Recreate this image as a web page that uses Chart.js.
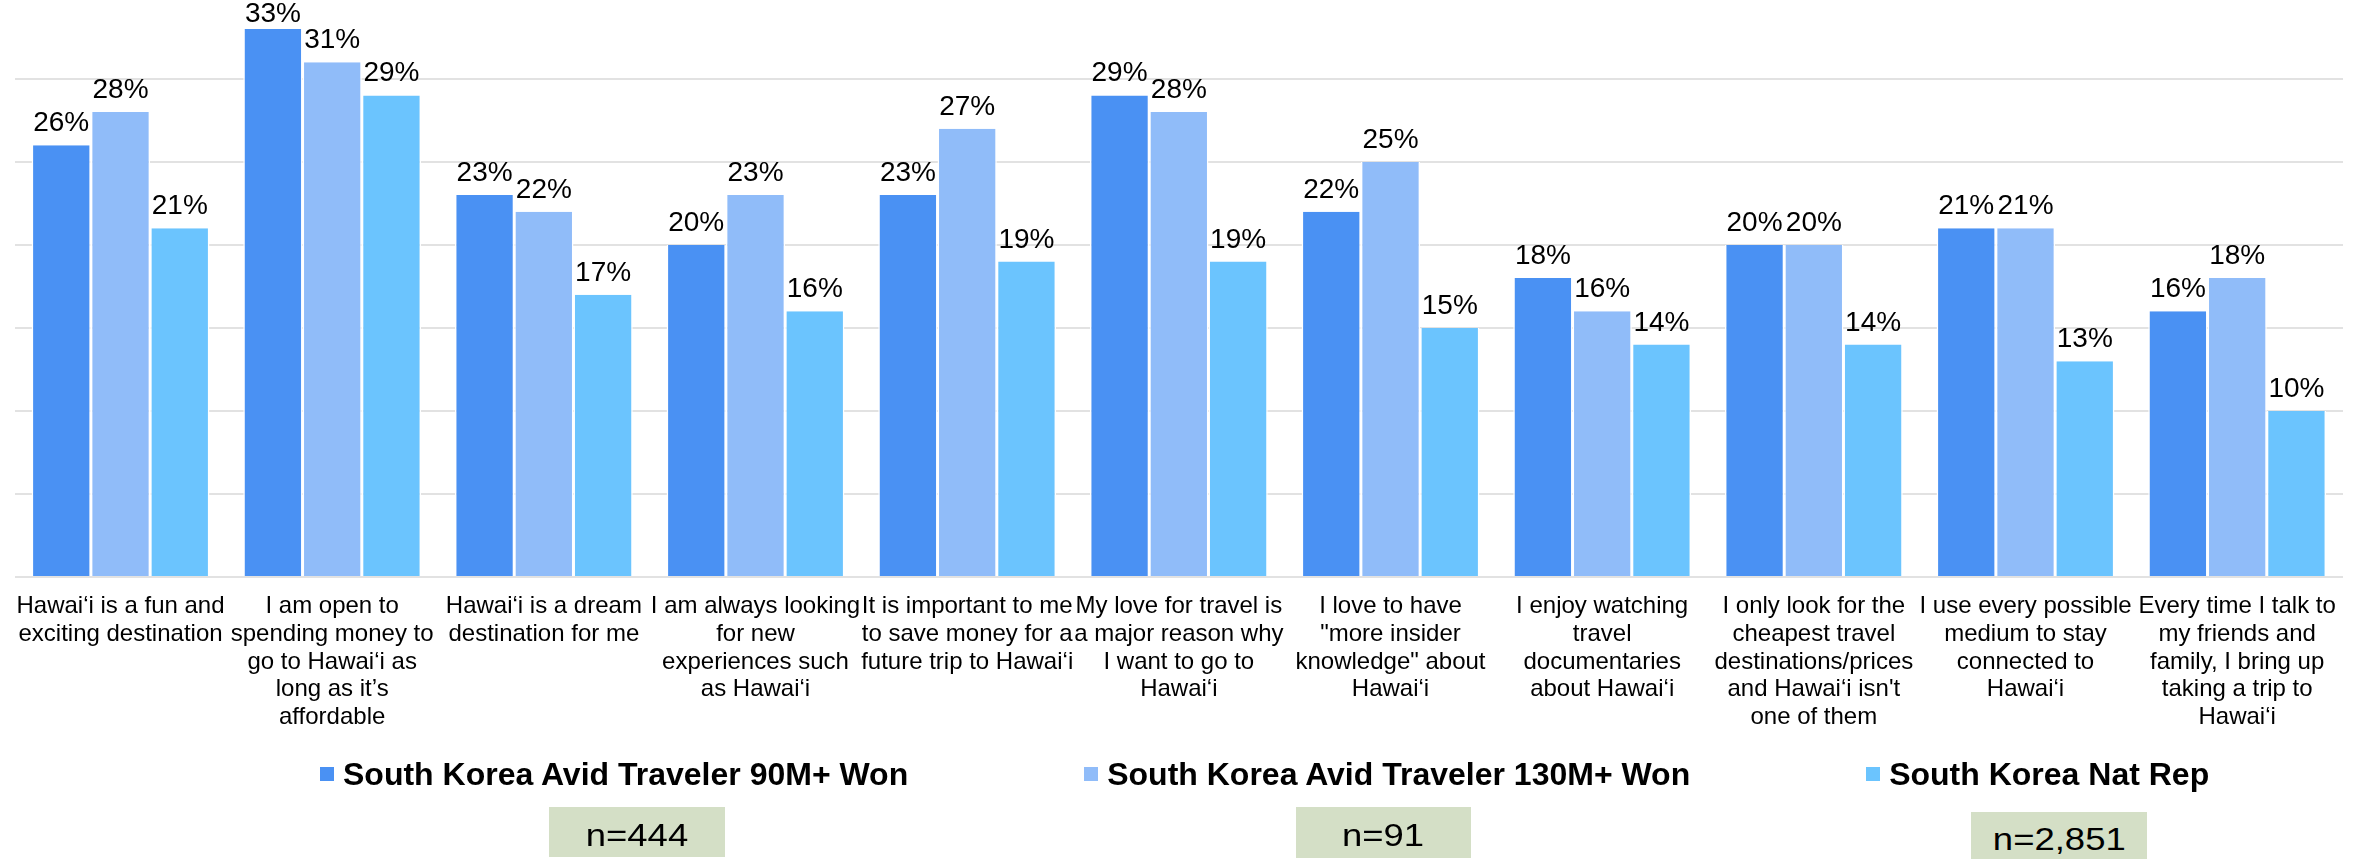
<!DOCTYPE html>
<html>
<head>
<meta charset="utf-8">
<script src="https://cdn.jsdelivr.net/npm/chart.js@4.4.1/dist/chart.umd.min.js"></script>
<style>
  body { margin: 0; background: #fff; font-family: "Liberation Sans", Arial, sans-serif; }
  #wrap { position: relative; width: 2367px; height: 859px; overflow: hidden; }
  #chart-box { position: absolute; left: 0; top: 0; width: 2367px; height: 859px; }
  #legend { position: absolute; left: 320px; top: 758px; display: flex; column-gap: 176px; }
  .lg-item { display: flex; align-items: center; font-weight: bold; font-size: 32px; line-height: 32px; color: #000; white-space: nowrap; }
  .lg-box { width: 14px; height: 14px; margin-right: 9px; }
  .nbox { position: absolute; background: #d4dfc6; text-align: center; font-size: 32px; color: #000; }
  .nbox span { display: inline-block; transform: scaleX(1.14); }
  #n0 { left: 549px; top: 807px; width: 176px; height: 50px; line-height: 57px; }
  #n1 { left: 1296px; top: 807px; width: 175px; height: 51px; line-height: 57px; }
  #n2 { left: 1971px; top: 812px; width: 176px; height: 60px; line-height: 55px; }
</style>
</head>
<body>
<div id="wrap">
  <div id="chart-box"><canvas id="bar-chart"></canvas></div>
  <div id="legend"></div>
  <div class="nbox" id="n0"></div>
  <div class="nbox" id="n1"></div>
  <div class="nbox" id="n2"></div>
</div>
<script>
var statements = [
  ["Hawai‘i is a fun and", "exciting destination"],
  ["I am open to", "spending money to", "go to Hawai‘i as", "long as it’s", "affordable"],
  ["Hawai‘i is a dream", "destination for me"],
  ["I am always looking", "for new", "experiences such", "as Hawai‘i"],
  ["It is important to me", "to save money for a", "future trip to Hawai‘i"],
  ["My love for travel is", "a major reason why", "I want to go to", "Hawai‘i"],
  ["I love to have", "\"more insider", "knowledge\" about", "Hawai‘i"],
  ["I enjoy watching", "travel", "documentaries", "about Hawai‘i"],
  ["I only look for the", "cheapest travel", "destinations/prices", "and Hawai‘i isn't", "one of them"],
  ["I use every possible", "medium to stay", "connected to", "Hawai‘i"],
  ["Every time I talk to", "my friends and", "family, I bring up", "taking a trip to", "Hawai‘i"]
];

var seriesNames = [
  "South Korea Avid Traveler 90M+ Won",
  "South Korea Avid Traveler 130M+ Won",
  "South Korea Nat Rep"
];

// percent agreeing, per statement
var avid90 = [26, 33, 23, 20, 23, 29, 22, 18, 20, 21, 16];
var avid130 = [28, 31, 22, 23, 27, 28, 25, 16, 20, 21, 18];
var natRep = [21, 29, 17, 16, 19, 19, 15, 14, 14, 13, 10];

var sampleSizes = ["n=444", "n=91", "n=2,851"];

var colors = ["#4a91f3", "#90bcf9", "#6bc4fe"];

Chart.defaults.font.family = '"Liberation Sans", Arial, sans-serif';
Chart.defaults.color = "#000";

// percentage on top of every bar
var valueLabels = {
  id: "valueLabels",
  afterDatasetsDraw: function(chart) {
    var ctx = chart.ctx;
    ctx.save();
    ctx.font = '28px "Liberation Sans", Arial, sans-serif';
    ctx.fillStyle = "#000";
    ctx.textAlign = "center";
    ctx.textBaseline = "alphabetic";
    chart.data.datasets.forEach(function(ds, i) {
      chart.getDatasetMeta(i).data.forEach(function(bar, j) {
        ctx.fillText(ds.data[j] + "%", bar.x, Math.max(bar.y - 14, 22));
      });
    });
    ctx.restore();
  }
};

var allSeries = [avid90, avid130, natRep];
var datasets = [];
for (var i = 0; i < allSeries.length; i++) {
  datasets.push({
    label: seriesNames[i],
    data: allSeries[i],
    backgroundColor: colors[i],
    borderColor: "#ffffff",
    borderWidth: { left: 1.5, right: 1.5, top: 0, bottom: 0 },
    borderSkipped: false,
    categoryPercentage: 0.84,
    barPercentage: 1.0
  });
}

var myChart = new Chart(document.getElementById("bar-chart"), {
  type: "bar",
  data: {
    labels: statements,
    datasets: datasets
  },
  options: {
    responsive: true,
    maintainAspectRatio: false,
    animation: false,
    layout: { padding: { left: 10, right: 24, top: 0, bottom: 0 } },
    plugins: {
      legend: { display: false },
      tooltip: { enabled: false }
    },
    scales: {
      x: {
        grid: { display: false, drawTicks: false },
        border: { display: false },
        ticks: {
          autoSkip: false,
          maxRotation: 0,
          minRotation: 0,
          padding: 16,
          color: "#000",
          font: { size: 24, lineHeight: 1.15 }
        },
        afterFit: function(scale) { scale.height = 282; }
      },
      y: {
        min: 0,
        max: 34.75,
        grid: { color: "#e2e2e2", lineWidth: 2, drawTicks: false },
        border: { display: false },
        ticks: { display: false, stepSize: 5, includeBounds: false },
        afterFit: function(scale) { scale.width = 0; }
      }
    }
  },
  plugins: [valueLabels]
});

// legend row built from the chart's datasets
var legendEl = document.getElementById("legend");
myChart.data.datasets.forEach(function(ds) {
  var item = document.createElement("div");
  item.className = "lg-item";
  var box = document.createElement("span");
  box.className = "lg-box";
  box.style.background = ds.backgroundColor;
  var txt = document.createElement("span");
  txt.textContent = ds.label;
  item.appendChild(box);
  item.appendChild(txt);
  legendEl.appendChild(item);
});

sampleSizes.forEach(function(n, i) {
  var s = document.createElement("span");
  s.textContent = n;
  document.getElementById("n" + i).appendChild(s);
});
</script>
</body>
</html>
